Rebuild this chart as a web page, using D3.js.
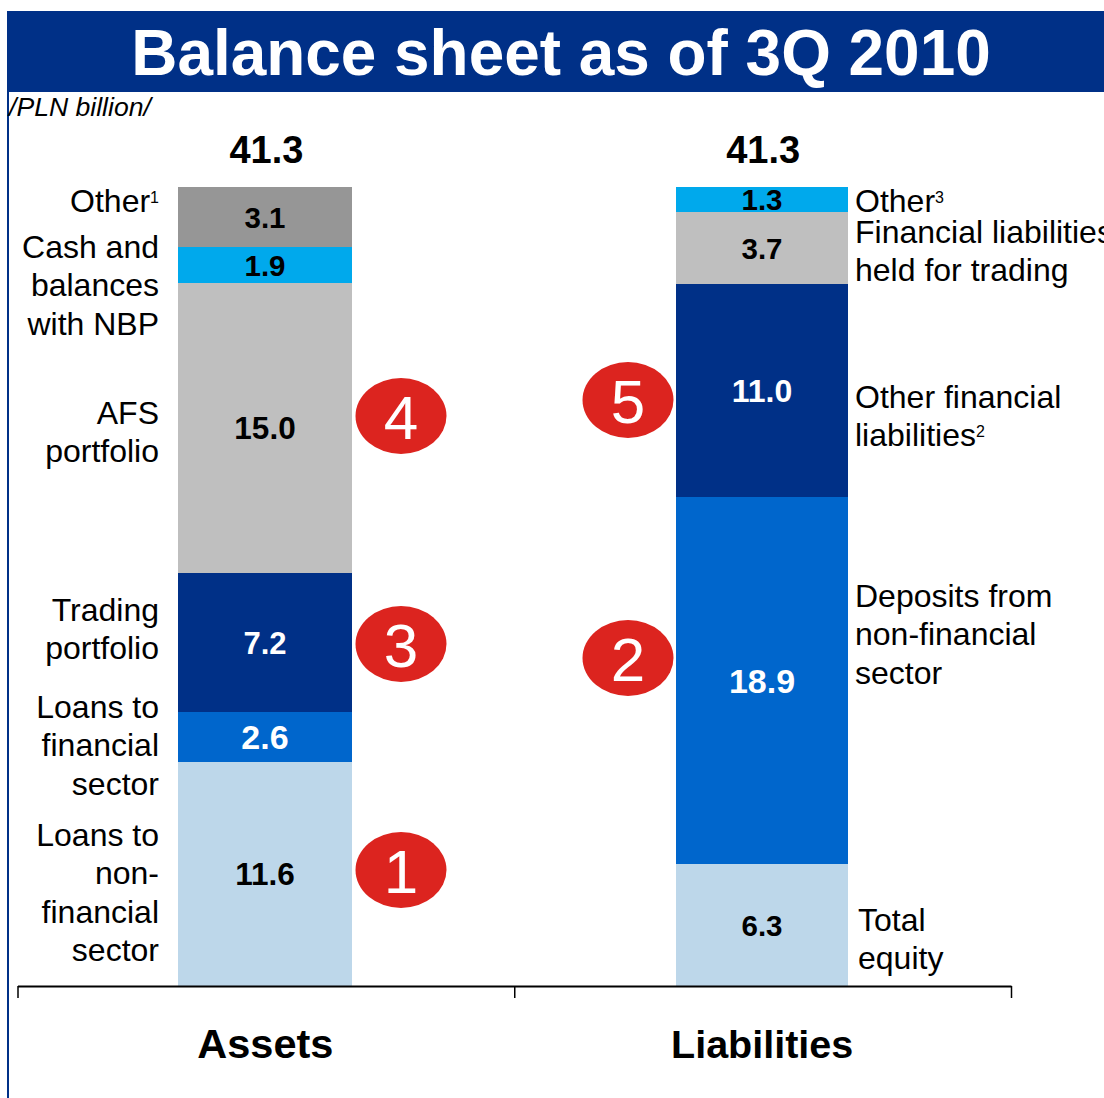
<!DOCTYPE html>
<html>
<head>
<meta charset="utf-8">
<script src="https://cdn.jsdelivr.net/npm/d3@7"></script>
<style>
html,body{margin:0;padding:0;background:#fff;overflow:hidden}
svg{display:block}
text{font-family:"Liberation Sans",Arial,sans-serif;fill:#000}
</style>
</head>
<body>
<svg id="chart" width="1104" height="1098"></svg>
<script>
// Balance sheet composition, PLN billion
const columns = ["Assets", "Liabilities"];
const columnTotals = ["41.3", "41.3"];

const assetValues = [11.6, 2.6, 7.2, 15.0, 1.9, 3.1];
const assetLabels = [
  ["Loans to", "non-", "financial", "sector"],
  ["Loans to", "financial", "sector"],
  ["Trading", "portfolio"],
  ["AFS", "portfolio"],
  ["Cash and", "balances", "with NBP"],
  ["Other|1"]
];

const liabilityValues = [6.3, 18.9, 11.0, 3.7, 1.3];
const liabilityLabels = [
  ["Total", "equity"],
  ["Deposits from", "non-financial", "sector"],
  ["Other financial", "liabilities|2"],
  ["Financial liabilities", "held for trading"],
  ["Other|3"]
];

const assetColors = ["#BDD7EA", "#0066CC", "#003087", "#BFBFBF", "#00A9EC", "#969696"];
const liabilityColors = ["#BDD7EA", "#0066CC", "#003087", "#BFBFBF", "#00A9EC"];
const lightText = new Set(["#0066CC", "#003087"]);

// Type size of the value printed inside each segment
const assetValueSizes = [31.5, 34, 31, 31.5, 29.5, 29.5];
const liabilityValueSizes = [29.5, 34, 32, 29.5, 29.5];

// Baselines of the first line of each side label
const assetLabelTops = [846, 718, 621, 424, 258, 212];
const liabilityLabelTops = [931, 607, 408, 243, 212];

// Numbered callouts: column, callout number, centre height
const calloutNumbers = [1, 3, 4, 2, 5];
const calloutColumns = ["Assets", "Assets", "Assets", "Liabilities", "Liabilities"];
const calloutHeights = [870, 644, 416, 658, 400];

const svg = d3.select("#chart");
const barTop = 187, barBottom = 986, lineGap = 38.3;
const barSpan = {Assets: [178, 352], Liabilities: [676, 848]};

const x = d3.scaleBand().domain(columns).range([17.5, 1011]);
const edges = d3.scaleLinear().domain([0, columns.length]).range(x.range());

// Header band, page rule and unit note
svg.append("rect").attr("x", 7).attr("y", 11).attr("width", 1097).attr("height", 81).attr("fill", "#003087");
svg.append("line").attr("x1", 8).attr("x2", 8).attr("y1", 91).attr("y2", 1098)
  .attr("stroke", "#003087").attr("stroke-width", 2);
svg.append("text").attr("x", 561).attr("y", 75).attr("text-anchor", "middle")
  .attr("font-size", 63.9).attr("font-weight", "bold").style("fill", "#fff")
  .text("Balance sheet as of 3Q 2010");
svg.append("text").attr("x", 9).attr("y", 116).attr("font-size", 26.6).attr("font-style", "italic")
  .text("/PLN billion/");

function drawLabel(g, lines, xPos, y0, anchor) {
  lines.forEach((line, i) => {
    const [body, note] = line.split("|");
    const t = g.append("text").attr("x", xPos).attr("y", y0 + i * lineGap)
      .attr("text-anchor", anchor).attr("font-size", 32).text(body);
    if (note) t.append("tspan").attr("font-size", 16).attr("dy", -9).text(note);
  });
}

function drawColumn(name, values, colors, sizes, labels, tops, labelX, anchor) {
  const y = d3.scaleLinear().domain([0, d3.sum(values)]).range([barBottom, barTop]);
  const g = svg.append("g");
  const [left, right] = barSpan[name];
  const stacked = d3.cumsum(values);
  values.forEach((v, i) => {
    const y1 = Math.round(y(stacked[i])), y0 = Math.round(y(stacked[i] - v));
    g.append("rect").attr("x", left).attr("y", y1).attr("width", right - left).attr("height", y0 - y1)
      .attr("fill", colors[i]);
    g.append("text").attr("x", (left + right) / 2).attr("y", (y0 + y1) / 2)
      .attr("dy", "0.36em").attr("text-anchor", "middle")
      .attr("font-size", sizes[i]).attr("font-weight", "bold")
      .style("fill", lightText.has(colors[i]) ? "#fff" : "#000")
      .text(v.toFixed(1));
    const lx = (name === "Liabilities" && i === 0) ? labelX + 3 : labelX;
    drawLabel(g, labels[i], lx, tops[i], anchor);
  });
}

drawColumn("Assets", assetValues, assetColors, assetValueSizes, assetLabels, assetLabelTops, 159, "end");
drawColumn("Liabilities", liabilityValues, liabilityColors, liabilityValueSizes, liabilityLabels, liabilityLabelTops, 855, "start");

// Column totals and column names
const nameSizes = [41.5, 39.5];
columns.forEach((c, i) => {
  svg.append("text").attr("x", x(c) + x.bandwidth() / 2 + 0.5).attr("y", 163).attr("text-anchor", "middle")
    .attr("font-size", 38).attr("font-weight", "bold").text(columnTotals[i]);
  svg.append("text").attr("x", x(c) + x.bandwidth() / 2 - 0.5).attr("y", 1058).attr("text-anchor", "middle")
    .attr("font-size", nameSizes[i]).attr("font-weight", "bold").text(c);
});

// Bracket axis separating the two columns
const axis = d3.axisBottom(edges).tickValues(d3.range(columns.length + 1)).tickFormat("")
  .tickSizeInner(12).tickSizeOuter(0);
const axisG = svg.append("g").attr("transform", `translate(0,${barBottom})`).call(axis);
axisG.selectAll("path,line").attr("stroke", "#000").attr("stroke-width", 2);
axisG.selectAll(".tick line").attr("stroke-width", 1.5);

// Numbered callouts next to the bars
calloutNumbers.forEach((n, i) => {
  const c = calloutColumns[i];
  const cx = c === "Assets" ? barSpan[c][1] + 49 : barSpan[c][0] - 48;
  svg.append("ellipse").attr("cx", cx).attr("cy", calloutHeights[i]).attr("rx", 45.5).attr("ry", 38)
    .attr("fill", "#DC241F");
  svg.append("text").attr("x", cx).attr("y", calloutHeights[i] + 1).attr("dy", "0.36em")
    .attr("text-anchor", "middle").attr("font-size", 62).style("fill", "#fff").text(n);
});
</script>
</body>
</html>
